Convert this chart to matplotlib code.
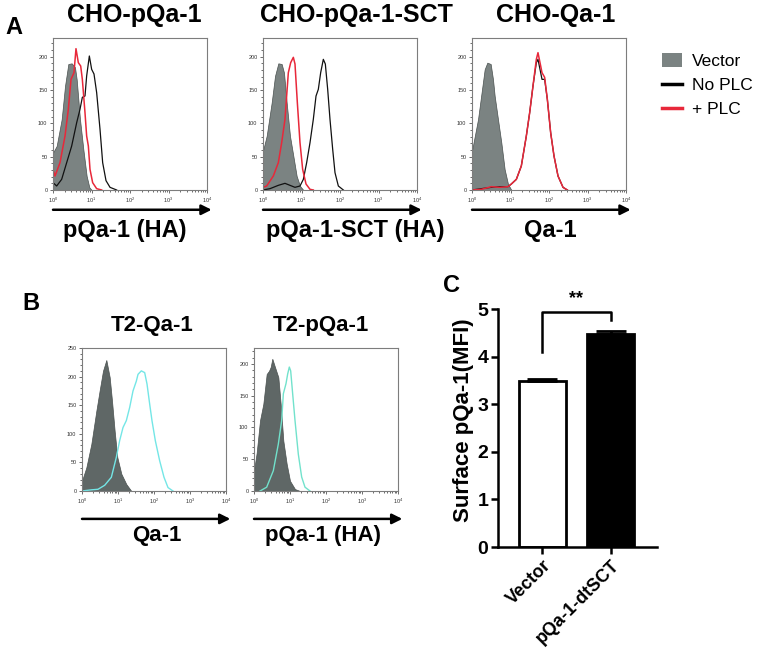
import numpy as np
import matplotlib
matplotlib.use('Agg')
import matplotlib.pyplot as plt
from matplotlib.lines import Line2D
from matplotlib.patches import Patch
from matplotlib.ticker import MultipleLocator, LogLocator, NullFormatter

plt.rcParams['font.family'] = ['Liberation Sans', 'DejaVu Sans']

# ---- panel A: CHO-pQa-1 (x as log10 intensity, y as cell count)
a1_vec_x = [0, .095, .225, .312, .398, .485, .571, .615, .701, .788, .874, .944, 1.004]
a1_vec_y = [56, 66, 106, 156, 189, 190, 184, 166, 106, 61, 21, 4, 0]
a1_nop_x = [0, .095, .225, .355, .485, .615, .701, .762, .831, .874, .944, 1.004, 1.065,
            1.134, 1.221, 1.29, 1.377, 1.481, 1.654]
a1_nop_y = [11, 6, 16, 41, 66, 101, 121, 139, 141, 171, 201, 181, 174, 146, 91, 41, 14, 4, 0]
a1_plc_x = [0, .052, .182, .312, .398, .468, .545, .597, .658, .719, .762, .831, .874,
            .918, .961, 1.03, 1.134, 1.264]
a1_plc_y = [31, 21, 41, 81, 121, 166, 176, 212, 191, 186, 166, 116, 81, 66, 31, 11, 2, 0]

# ---- panel A: CHO-pQa-1-SCT
a2_vec_x = [0, .095, .225, .312, .398, .485, .545, .615, .701, .788, .874, .961, 1.048]
a2_vec_y = [59, 81, 131, 171, 190, 189, 176, 131, 81, 51, 21, 6, 0]
a2_nop_x = [0, .182, .398, .571, .701, .831, .961, 1.048, 1.134, 1.221, 1.307, 1.377,
            1.437, 1.498, 1.567, 1.619, 1.68, 1.74, 1.81, 1.87, 1.957, 2.087]
a2_nop_y = [0, 2, 7, 10, 7, 4, 6, 16, 41, 71, 106, 141, 151, 176, 196, 189, 151, 106,
            61, 26, 6, 0]
a2_plc_x = [0, .095, .268, .398, .485, .571, .658, .719, .788, .831, .892, .961, 1.03,
            1.117, 1.221, 1.307]
a2_plc_y = [4, 6, 21, 41, 71, 106, 176, 191, 199, 189, 131, 71, 31, 9, 1, 0]

# ---- panel A: CHO-Qa-1
a3_vec_x = [0, .156, .26, .329, .398, .485, .545, .589, .675, .762, .848, .935, 1.022]
a3_vec_y = [59, 106, 151, 181, 191, 189, 166, 141, 106, 71, 31, 9, 0]
a3_line_x = [0, .242, .502, .719, .935, 1.022, 1.152, 1.281, 1.411, 1.498, 1.584, 1.671,
             1.714, 1.784, 1.818, 1.887, 1.957, 2.043, 2.13, 2.234, 2.364, 2.476]
a3_nop_y = [0, 2, 4, 5, 5, 9, 16, 36, 81, 116, 156, 191, 196, 176, 166, 166, 136, 86,
            51, 21, 4, 0]
a3_plc_y = [0, 1, 5, 4, 5, 9, 16, 36, 81, 116, 156, 196, 206, 186, 176, 169, 136, 86,
            51, 21, 4, 0]

# ---- panel B: T2-Qa-1
b1_vec_x = [0, .12, .259, .398, .491, .583, .676, .769, .833, .907, .981, 1.093, 1.231, 1.37]
b1_vec_y = [18, 41, 82, 140, 176, 210, 229, 199, 158, 105, 59, 30, 12, 0]
b1_qa_x = [0, .259, .444, .63, .815, .954, 1.046, 1.139, 1.231, 1.324, 1.417, 1.509,
           1.556, 1.648, 1.741, 1.806, 1.88, 1.944, 2.037, 2.157, 2.278, 2.389, 2.528]
b1_qa_y = [0, 2, 3, 10, 24, 59, 88, 111, 123, 146, 175, 192, 204, 210, 207, 187, 152,
           123, 88, 53, 24, 6, 0]

# ---- panel B: T2-pQa-1
b2_vec_x = [0, .074, .167, .259, .352, .417, .463, .509, .583, .676, .741, .815, .907,
            1.0, 1.139, 1.278]
b2_vec_y = [32, 60, 111, 137, 184, 189, 195, 208, 195, 179, 137, 79, 43, 16, 3, 0]
b2_pqa_x = [.167, .352, .537, .676, .769, .815, .889, .935, .981, 1.019, 1.074, 1.139,
            1.231, 1.324, 1.417, 1.556]
b2_pqa_y = [0, 6, 32, 74, 111, 153, 169, 184, 195, 189, 153, 111, 58, 22, 6, 0]

# ---- panel C
c_groups = ['Vector', 'pQa-1-dtSCT']
c_mfi = [3.48, 4.48]
c_err = [0.04, 0.06]

W, H = 760, 652


def box(x0, y0, x1, y1):
    return [x0 / W, 1 - y1 / H, (x1 - x0) / W, (y1 - y0) / H]


def ptext(x, y, s, **kw):
    fig.text(x / W, 1 - y / H, s, ha='center', va='center', **kw)


fig = plt.figure(figsize=(W / 100, H / 100), dpi=100)


def histo(rect, ymax, fill, lines, gray, arrow_y):
    ax = fig.add_axes(rect)
    fx, fy = fill
    ax.fill_between(10 ** np.array(fx), fy, color=gray, lw=0.5, ec='#4a5150', zorder=1)
    for lx, ly, col, lw in lines:
        ax.plot(10 ** np.array(lx), ly, color=col, lw=lw, zorder=2)
    ax.set_xscale('log')
    ax.set_xlim(1, 1e4)
    ax.set_ylim(0, ymax)
    ax.xaxis.set_major_locator(LogLocator(base=10, numticks=6))
    ax.xaxis.set_minor_locator(LogLocator(base=10, subs=np.arange(2, 10), numticks=12))
    ax.xaxis.set_minor_formatter(NullFormatter())
    ax.yaxis.set_major_locator(MultipleLocator(50))
    ax.yaxis.set_minor_locator(MultipleLocator(10))
    ax.tick_params(which='both', direction='out', width=0.5, colors='#333333',
                   labelsize=4, pad=1.5)
    ax.tick_params(which='major', length=2.5)
    ax.tick_params(which='minor', length=1.2)
    for s in ax.spines.values():
        s.set_color('#7d7d7d')
        s.set_linewidth(0.8)
    ax.annotate('', xy=(1.03, arrow_y), xytext=(0.0, arrow_y), xycoords='axes fraction',
                arrowprops=dict(arrowstyle='-|>', lw=1.8, color='black', mutation_scale=15,
                                shrinkA=0, shrinkB=0))
    return ax


RED = '#e8283a'
GA = '#7b8382'
GB = '#5f6766'

histo(box(53, 38, 207, 190), 228, (a1_vec_x, a1_vec_y),
      [(a1_nop_x, a1_nop_y, '#111111', 0.9), (a1_plc_x, a1_plc_y, RED, 1.1)], GA, -0.13)
histo(box(263, 38, 417, 190), 228, (a2_vec_x, a2_vec_y),
      [(a2_nop_x, a2_nop_y, '#111111', 0.9), (a2_plc_x, a2_plc_y, RED, 1.1)], GA, -0.13)
histo(box(472, 38, 626, 190), 228, (a3_vec_x, a3_vec_y),
      [(a3_line_x, a3_nop_y, '#111111', 0.9), (a3_line_x, a3_plc_y, RED, 1.1)], GA, -0.13)
histo(box(82, 348, 226, 491), 250, (b1_vec_x, b1_vec_y),
      [(b1_qa_x, b1_qa_y, '#74e6e6', 1.0)], GB, -0.195)
histo(box(254, 348, 398, 491), 225, (b2_vec_x, b2_vec_y),
      [(b2_pqa_x, b2_pqa_y, '#72e2cc', 1.0)], GB, -0.195)

# titles, axis names, panel letters
bold = dict(fontweight='bold')
ptext(134, 15, 'CHO-pQa-1', fontsize=18, **bold)
ptext(356, 15, 'CHO-pQa-1-SCT', fontsize=18, **bold)
ptext(556, 15, 'CHO-Qa-1', fontsize=18, **bold)
ptext(125, 230, 'pQa-1 (HA)', fontsize=17, **bold)
ptext(355, 230, 'pQa-1-SCT (HA)', fontsize=17, **bold)
ptext(550, 230, 'Qa-1', fontsize=17, **bold)
ptext(152, 325, 'T2-Qa-1', fontsize=16, **bold)
ptext(321, 325, 'T2-pQa-1', fontsize=16, **bold)
ptext(157, 536, 'Qa-1', fontsize=16, **bold)
ptext(323, 536, 'pQa-1 (HA)', fontsize=16, **bold)
ptext(14, 27, 'A', fontsize=17, **bold)
ptext(31, 303, 'B', fontsize=17, **bold)
ptext(452, 285, 'C', fontsize=17, **bold)

# legend for panel A
handles = [Patch(facecolor=GA, edgecolor='none'),
           Line2D([], [], color='black', lw=2.5),
           Line2D([], [], color=RED, lw=2.5)]
fig.legend(handles, ['Vector', 'No PLC', '+ PLC'], loc='upper left',
           bbox_to_anchor=(662 / W, 1 - 53 / H), frameon=False, fontsize=12.5,
           borderpad=0, borderaxespad=0, handlelength=1.15, handleheight=0.9,
           handletextpad=0.55, labelspacing=0.45)

# ---- panel C bar chart
axc = fig.add_axes(box(498, 309, 657, 547))
xc = np.arange(len(c_groups))
axc.bar(xc, c_mfi, width=0.69, color=['white', 'black'], edgecolor='black', lw=2, zorder=2)
axc.errorbar(xc, c_mfi, yerr=[[0, 0], c_err], fmt='none', ecolor='black', elinewidth=2,
             capsize=11, capthick=2, zorder=3)
axc.plot([0, 0, 1, 1], [4.1, 4.93, 4.93, 4.77], color='black', lw=1.8, clip_on=False)
axc.text(0.5, 5.05, '**', ha='center', va='bottom', fontsize=13, **bold)
axc.set_xlim(-0.65, 1.68)
axc.set_ylim(0, 5)
axc.set_xticks(xc)
axc.set_xticklabels(c_groups, rotation=45, ha='right', rotation_mode='anchor',
                    fontsize=13, fontweight='bold')
axc.set_yticks(range(6))
axc.set_yticklabels([str(v) for v in range(6)], fontsize=14, fontweight='bold')
axc.tick_params(direction='out', width=1.8, length=5, pad=2)
axc.spines['top'].set_visible(False)
axc.spines['right'].set_visible(False)
axc.spines['left'].set_linewidth(1.8)
axc.spines['bottom'].set_linewidth(1.8)
ptext(464, 420, 'Surface pQa-1(MFI)', fontsize=16, rotation=90, **bold)

fig.savefig('out.png', dpi=100)
